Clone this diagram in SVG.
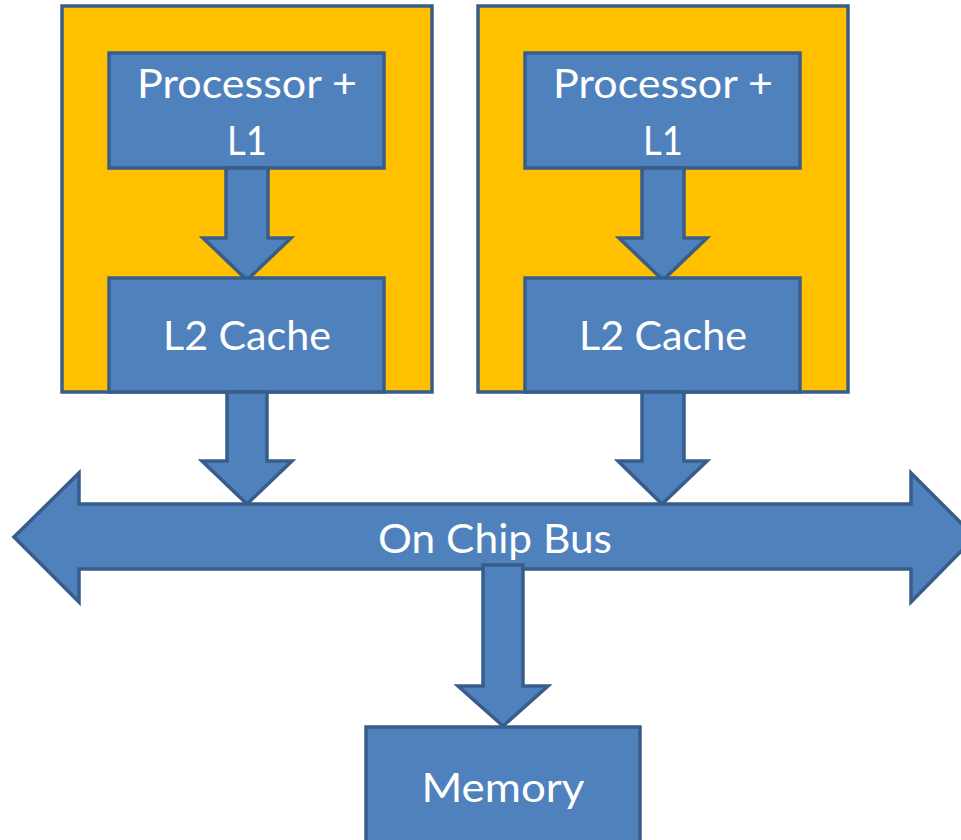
<svg xmlns="http://www.w3.org/2000/svg" width="961" height="840" viewBox="0 0 961 840">
<style>
.shape{fill:#4F81BD;stroke:#385D8A;stroke-width:3.5;stroke-linejoin:miter}
.outer{fill:#FFC000;stroke:#385D8A;stroke-width:3.5}
.t{font-family:Lato,"Open Sans","Liberation Sans",sans-serif;font-size:40px;fill:#FFFFFF;text-anchor:middle}
</style>
<rect width="961" height="840" fill="#FFFFFF"/>
<g id="core1">
<rect class="outer" x="62" y="6" width="370" height="386"/>
<rect id="proc1" class="shape" x="109" y="53" width="275" height="115"/>
<text class="t" x="247" y="98" textLength="220" lengthAdjust="spacingAndGlyphs">Processor +</text>
<text class="t" x="247" y="155" textLength="40" lengthAdjust="spacingAndGlyphs">L1</text>
</g>
<g id="core2">
<rect class="outer" x="478" y="6" width="370" height="386"/>
<rect id="proc2" class="shape" x="525" y="53" width="275" height="115"/>
<text class="t" x="663" y="98" textLength="220" lengthAdjust="spacingAndGlyphs">Processor +</text>
<text class="t" x="663" y="155" textLength="40" lengthAdjust="spacingAndGlyphs">L1</text>
</g>
<g id="connectors">
<path class="shape" d="M226,168 L268,168 L268,238 L291,238 L247,280 L203,238 L226,238 Z"/>
<path class="shape" d="M642,168 L684,168 L684,238 L707,238 L663,280 L619,238 L642,238 Z"/>
</g>
<g id="l2a">
<rect class="shape" x="109" y="278" width="275" height="114"/>
<text class="t" x="247" y="350" textLength="168" lengthAdjust="spacingAndGlyphs">L2 Cache</text>
</g>
<g id="l2b">
<rect class="shape" x="525" y="278" width="275" height="114"/>
<text class="t" x="663" y="350" textLength="168" lengthAdjust="spacingAndGlyphs">L2 Cache</text>
</g>
<g id="bus">
<path class="shape" d="M14,537 L79,473 L79,504 L911,504 L911,473 L975,537 L911,602 L911,569 L79,569 L79,602 Z"/>
<text class="t" x="495" y="553" textLength="234" lengthAdjust="spacingAndGlyphs">On Chip Bus</text>
</g>
<g id="connectors2">
<path class="shape" d="M227,392 L267,392 L267,461 L292,461 L247,504 L202,461 L227,461 Z"/>
<path class="shape" d="M642,392 L684,392 L684,461 L707,461 L662,504 L618,461 L642,461 Z"/>
<path class="shape" d="M483,565 L523,565 L523,686 L548,686 L503,726 L458,686 L483,686 Z"/>
</g>
<g id="memory">
<rect class="shape" x="366" y="727" width="274" height="130"/>
<text class="t" x="503" y="802" textLength="163" lengthAdjust="spacingAndGlyphs">Memory</text>
</g>
</svg>
